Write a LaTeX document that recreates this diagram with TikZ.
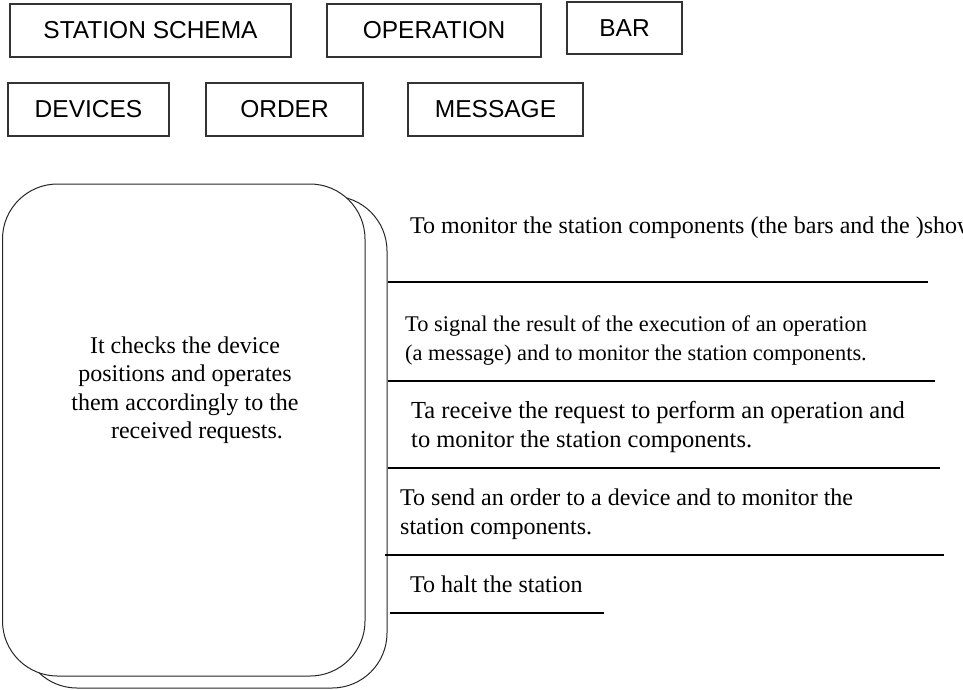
\documentclass[tikz,border=0pt]{standalone}
\usepackage{fontspec}
\setmainfont{Liberation Serif}
\newfontfamily\arialf{Liberation Sans}
\begin{document}
\begin{tikzpicture}[x=1pt,y=-1pt,
  box/.style={draw=black!80, line width=1.1pt, inner sep=0pt, font=\arialf\fontsize{24.5}{28}\selectfont},
  desc/.style={anchor=west, align=left, inner sep=0pt, font=\fontsize{24}{29}\selectfont},
  sepline/.style={line width=2.4pt},
  card/.style={draw=black!85, line width=1pt, rounded corners=55pt, inner sep=0pt}]
\useasboundingbox (0,0) rectangle (963,689);
% top boxes
\node[box, minimum width=281pt, minimum height=53pt] (ss) at (150.5,30.5) {STATION SCHEMA};
\node[box, minimum width=214pt, minimum height=53pt] (op) at (434,30.5) {OPERATION};
\node[box, minimum width=115pt, minimum height=52pt] (bar) at (624.5,28) {BAR};
\node[box, minimum width=161pt, minimum height=53pt] (dev) at (88.5,109.5) {DEVICES};
\node[box, minimum width=157pt, minimum height=53pt] (ord) at (284.5,109.5) {ORDER};
\node[box, minimum width=175pt, minimum height=53pt] (msg) at (495.5,109.5) {MESSAGE};
% cards
\node[card, minimum width=365pt, minimum height=492pt] (back) at (204.5,442) {};
\node[card, fill=white, minimum width=362.5pt, minimum height=492pt] (front) at (183.75,430) {};
\node[align=center, inner sep=0pt, font=\fontsize{24}{28.5}\selectfont] (ftext) at (185,390)
  {It checks the device\\positions and operates\\them accordingly to the\\\hspace*{24pt}received requests.};
% right descriptions
\node[desc] (d1) at (410,228) {To monitor the station components (the bars and the )show};
\coordinate (l1a) at (388,282); \coordinate (l1b) at (928,282);
\draw[sepline] (l1a) -- (l1b);
\node[desc, font=\fontsize{22.4}{29}\selectfont] (d2) at (405,340.5) {To signal the result of the execution of an operation\\(a message) and to monitor the station components.};
\coordinate (l2a) at (388,381); \coordinate (l2b) at (935,381);
\draw[sepline] (l2a) -- (l2b);
\node[desc, font=\fontsize{24.5}{29}\selectfont] (d3) at (411,426.5) {Ta receive the request to perform an operation and\\to monitor the station components.};
\coordinate (l3a) at (388,468); \coordinate (l3b) at (940,468);
\draw[sepline] (l3a) -- (l3b);
\node[desc] (d4) at (400,514) {To send an order to a device and to monitor the\\station components.};
\coordinate (l4a) at (385,555); \coordinate (l4b) at (944,555);
\draw[sepline] (l4a) -- (l4b);
\node[desc] (d5) at (410,584) {To halt the station};
\coordinate (l5a) at (390,613); \coordinate (l5b) at (604,613);
\draw[sepline] (l5a) -- (l5b);
\end{tikzpicture}
\end{document}
